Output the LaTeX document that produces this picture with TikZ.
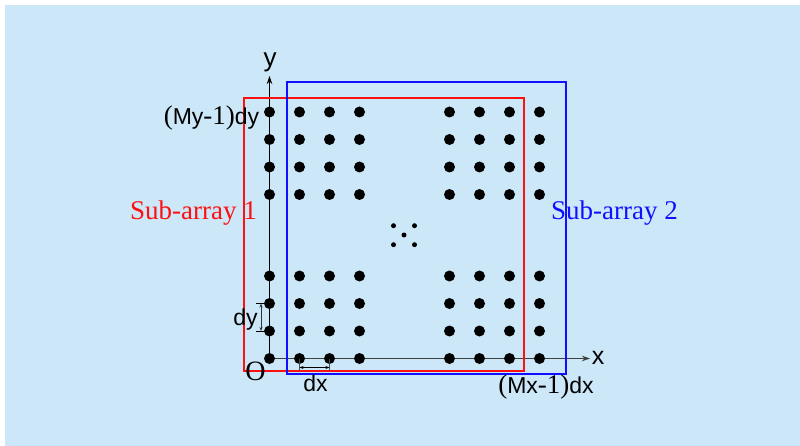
\documentclass[tikz,border=0pt]{standalone}
\usepackage{fontspec}
\setmainfont{Liberation Serif}
\newfontfamily\sansf{Liberation Sans}
\usetikzlibrary{arrows.meta,calc}
\definecolor{bgblue}{HTML}{CCE8F8}
\definecolor{subred}{HTML}{FF1010}
\definecolor{subblue}{HTML}{1010FF}
\newcommand{\mysr}{\fontsize{27}{30}\selectfont\rmfamily}
\newcommand{\myss}{\fontsize{23}{26}\selectfont\sansf}
\begin{document}
\begin{tikzpicture}[x=1pt,y=-1pt,
 dot/.style={circle,fill=black,inner sep=0pt,minimum size=11pt},
 sdot/.style={circle,fill=black,inner sep=0pt,minimum size=5pt},
 axisline/.style={line width=1.1pt,-{Stealth[length=8pt,width=5.5pt]}},
 dimline/.style={line width=0.8pt,{Stealth[length=4pt,width=3pt]}-{Stealth[length=4pt,width=3pt]}},
 tickline/.style={line width=0.8pt},
 lab/.style={inner sep=0pt,anchor=base},
 subbox/.style={line width=2pt}]
\useasboundingbox (0,0) rectangle (800,446);
\fill[bgblue] (5,5) rectangle (800,446);
% coordinates
\coordinate (O) at (269.5,358.5);
\coordinate (xend) at (590,358.5);
\coordinate (yend) at (269.5,76);
% axes
\draw[axisline,black!75] (O) -- (xend);
\draw[axisline] (O) -- (yend);
% dots
\foreach \xx [count=\i] in {269.5,299.5,329.5,359.5,449.5,479.5,509.5,539.5}{
  \foreach \yy [count=\j] in {112,139.5,167,194.5,276,303.5,331,358.5}{
    \node[dot] (d-\i-\j) at (\xx,\yy) {};
  }
}
% centre dots
\node[sdot] (c1) at (393.5,225.7) {};
\node[sdot] (c2) at (414.5,225.7) {};
\node[sdot] (c3) at (404,235) {};
\node[sdot] (c4) at (393.5,244.7) {};
\node[sdot] (c5) at (414.5,244.7) {};
% sub-arrays
\draw[subbox,subred] (244,98) rectangle (524,371);
\draw[subbox,subblue] (287,82) rectangle (566,374);
% dy dimension
\coordinate (dyt) at (261,303.5);
\coordinate (dyb) at (261,331);
\draw[tickline] ($(dyt)+(-5,0)$) -- ($(dyt)+(4,0)$);
\draw[tickline] ($(dyb)+(-5,0)$) -- ($(dyb)+(4,0)$);
\draw[dimline,black!80] (dyt) -- (dyb);
% dx dimension
\coordinate (dxl) at (299.5,367.5);
\coordinate (dxr) at (329.5,367.5);
\draw[tickline,black!70] (d-2-8.center) -- ($(dxl)+(0,3)$);
\draw[tickline,black!70] (d-3-8.center) -- ($(dxr)+(0,3)$);
\draw[dimline] (dxl) -- (dxr);
% labels
\node[lab] (ly) at (270,67) {\fontsize{26}{28}\selectfont\sansf y};
\node[lab] (lx) at (598,364) {\fontsize{25}{28}\selectfont\sansf x};
\node[lab] (lO) at (255.5,380.5) {\fontsize{28}{30}\selectfont O};
\node[lab] (ldy) at (245.5,325) {\myss dy};
\node[lab] (ldx) at (315.5,391.5) {\myss dx};
\node[lab] (lmy) at (211.5,124.3) {{\mysr (}{\myss My}{\mysr -1)}{\myss dy}};
\node[lab] (lmx) at (546,393.5) {{\mysr (}{\myss Mx}{\mysr -1)}{\myss dx}};
\node[lab,text=subred] (s1) at (193.5,219.3) {\mysr Sub-array 1};
\node[lab,text=subblue] (s2) at (614.5,219.3) {\mysr Sub-array 2};
\end{tikzpicture}
\end{document}
